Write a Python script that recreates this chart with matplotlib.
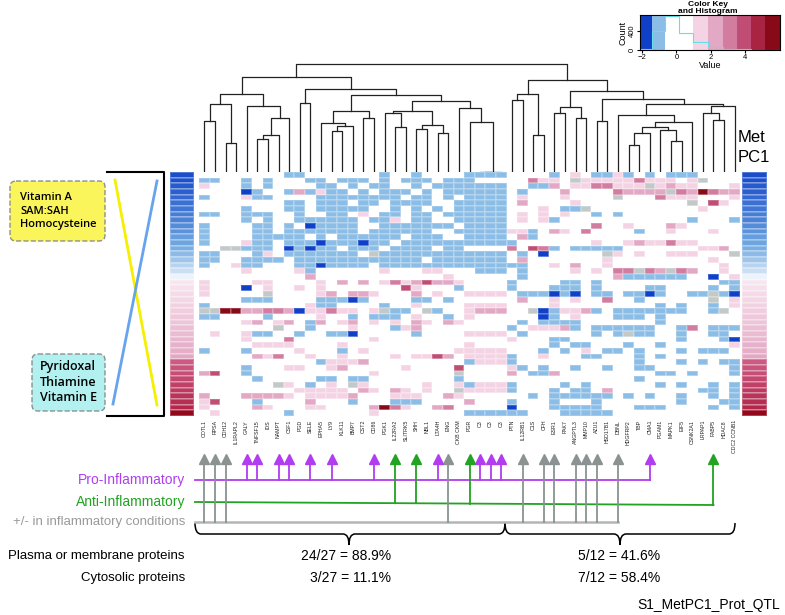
import numpy as np
import matplotlib
matplotlib.use('Agg')
import matplotlib.pyplot as plt
from matplotlib.colors import ListedColormap, BoundaryNorm, LinearSegmentedColormap
from matplotlib.path import Path
from matplotlib.patches import PathPatch, FancyBboxPatch

plt.rcParams['font.family'] = ['Liberation Sans', 'DejaVu Sans']

# ---- data ----
col_labels = ['COTL1', 'RPSA', 'CDH12', 'IL1RAPL2', 'GALY', 'TNFSF15', 'IDS', 'NAMPT',
              'CSF1', 'PGD', 'SELE', 'EPHA5', 'LY9', 'KLK11', 'BMP7', 'CST2', 'CD86',
              'PGK1', 'IL22RA2', 'SLITRK5', 'SHH', 'NBL1', 'LTA4H', 'ENG', 'CKB CKM',
              'PGR', 'C3', 'C3', 'C3', 'PTN', 'IL12RB1', 'C1S', 'CFH', 'ESR1', 'PAK7',
              'ANGPTL3', 'MMP10', 'AZU1', 'HSD17B1', 'DBNL', 'HDGFRP2', 'TBP', 'CMA1',
              'PGAM1', 'MAPK1', 'EIF5', 'CSNK2A1', 'LRPAP1', 'FABP5', 'HDAC8', 'CDC2 CCNB1']

# cell codes: B dark blue, b light blue, . white, p/q/m/r/R pinks to dark red, g = NA
heat_left = [
    "..... ...bb ..... ..b.. b.... bbbb",
    "bb..b .b... bb.bb b.b.b bb.bb b...",
    "p...b .b... .bb.b .bb.. b.bbb bbbb",
    "....B b..bq bpbb. b.bbb .b.bb bbbb",
    "b...p bb... .bbbb bbbb. bb.b. bbbb",
    "..... ...bb .bbb. bb.bb bb..b bbbb",
    "....b ...bb .bbbb b..b. b.b.b bbbb",
    "bb..b bb..b ..bb. p.bb. bb.bb bbbb",
    "....b .b..b bbbbb .bbp. bb..b bbbb",
    "b.... bb.b. Bbbbb ..bbb bbbb. bbbb",
    "b.... bb.bb bbbbb .bbbb bb..b bbbb",
    "b.... bbbbb .b.bb bbbb. bbb.. bbbb",
    "b...p bb.bb bBbbb Bbb.b bbbbb bbbb",
    "..ggb bb.Bb Bbb.b bb.bb bb.bb ....",
    "bb... bp.bb bbbbb .gbbb bbbbb bbbb",
    "bb..b bbb.b bbbbb bbbbb b.bbb bbbb",
    "b..pb b...b bBbbb b.bbb bbbbb bbbb",
    "....p ....p b.... ..p.. .pp.. .bbb",
    "..... ..... q.... ..... ...p. ....",
    "p.... pp... .p.q. q.pmp qrqqp ....",
    "p...B .p..p .p... ....r p...b ....",
    "p.... .g... .pq.q qp... q.p.. pppp",
    "....b bb... .bbbB b.... bb.b. ....",
    "b.... ..... pbb.. ..b.. p.... pppp",
    "ggRRq qmmqB ppmpp .pgbb .gb.. pqqq",
    "bb... .b... .p..b .bbb. p..b. p...",
    "....p q.pq. bq.pq .p.p. qp.qp ....",
    "..... ..g.. b...p ...bp q.... ....",
    ".p..p bb..b ..bbB ..... b.... pppp",
    "....p ...m. ..... .p... ..... ....",
    "..... pppp. ...p. ..... ..... p...",
    "b...b ....p ...b. p.... ....p pppp",
    "..... qpm.. p..p. ...p. pprq. pppp",
    "..... ..... .bppp q.... ..... bppp",
    "....b ...pp ..pq. ....p ....r ....",
    "qr..b ..... ..... .p... ....g ....",
    "..... b.... .bb.b b.... ....b ....",
    "..... ..gp. b.p.g p.... .p..p bppp",
    "..... ....p pppp. qp.qp .p..g pppp",
    "q...q qqqp. ppppq ...pp p..qp ....",
    "pr... b.... q...b ...bb b.... q...",
    "p.... qp... pp... .qRmp ..qm. ....",
    ".p... ...b. ..... .p... ..... bbbb",
]
heat_right = [
    "....b .p.bb pb.b. bbb.. ..",
    "..mpp .gppp ppmpp p.pg. ..",
    "..bbq .ppmm pppgp qpp.. .p",
    ".b... q.... mqqqq gmqRm qq",
    ".p... p.... g...m ppp.. .p",
    ".q... .p... ..... ..g.r p.",
    "...p. bbg.. ..... ...p. ..",
    ".p.p. p..b. b.... ..... ..",
    ".p.pb ..... ..... ..b.. .b",
    "..... ...m. .p... qp... ..",
    "ppb.q p.m.. ..b.. p...p ..",
    ".qb.. ..... ..... ..... ..",
    "b.... ...p. .pqpp mpp.. ..",
    "m.rmb .bbbb b.... ...pp q.",
    ".b.B. ....g p.p.. ppp.. .g",
    ".q... ....p ..... ....p ..",
    "bb..p .q..p ..... ..... p.",
    ".b... .p.p. mmgmq gmq.. p.",
    ".b... ..... qbbbb bb..B .p",
    "b.... bb.b. ..... ..... bb",
    "b...b bb.b. ...bb ....b .b",
    ".bbbB bB.bb .bbBb ..bbg bB",
    ".q..p .p..m ..b.. ....g .p",
    "....p ..... ....b .b..b .p",
    "..gBb ppqb. bbbbb bb..b g.",
    "...Bb .p... bbb.b ..... ..",
    ".b.bb bb... ....b ..... ..",
    "b.ppp qb.bb bbbb. .bm.b bb",
    ".b... ...b. bgbb. .b..b b.",
    "p...b b.... ..... .b... bB",
    "....b .bb.. .b..b ..... .p",
    "...b. b.p.b b.b.. .b.bb b.",
    "b..p. ..bb. ..b.b ..... ..",
    "b.... ..... ..b.. .b.b. bb",
    "pb.b. .b..b ..bb. ..... .b",
    "q.bbq ..... ....b b.b.. .b",
    "..... ..... ..b.. ..... ..",
    "b.... b.b.. ....b .b..b .b",
    "b...b .bb.q ..... ...bb .b",
    "..b.b bbbbb .b.b. .b..b .b",
    "b...b ...b. ..... .b... bb",
    "B...b bbbb. ..bbb ....b .b",
    "bb... bbbbb ..... ..... ..",
]
code_values = {'B': -1.8, 'b': -1.0, '.': 0.5, 'p': 1.4, 'q': 2.2,
               'm': 3.0, 'r': 3.9, 'R': 5.5, 'g': np.nan}

met_pc1 = [-2.0, -1.95, -1.85, -1.8, -1.7, -1.6, -1.55, -1.45, -1.4, -1.3, -1.2,
           -1.1, -1.0, -0.9, -0.75, -0.6, -0.45, -0.3, -0.05, 0.3, 0.4, 0.5, 0.6,
           0.7, 0.8, 0.9, 1.0, 1.1, 1.2, 1.3, 1.4, 1.5, 1.6, 2.2, 2.4, 2.6, 2.8,
           3.0, 3.2, 3.4, 3.6, 3.8, 4.8]

# column dendrogram: (left, right, height); ints are columns
col_tree = (
    ((((0, 1, 142), (2, 3, 80), 190),
      (4, ((((5, 6, 92), 7, 105), 8, 150)), 185), 218),
     ((9, 10, 193),
      (((11, ((12, 13, 115), 14, 130), 138), (15, 16, 152), 170),
       (((17, (18, 19, 125), 165), ((20, 21, 120), (22, 23, 108), 132), 172),
        (24, (25, (((26, 27, 1), 28, 1)), 140), 180), 198), 217), 232), 265),
    ((((29, 30, 202), (31, 32, 105), 220)),
     (((33, 34, 165), (35, 36, 152), 182),
      ((37, 38, 142),
       ((39, (((((40, 41, 75), 42, 108), (43, (44, 45, 88), 117), 125)), 46, 140), 160),
        ((47, (48, 49, 145), 165), 50, 185), 192), 205), 228), 258),
    302)

pro_cols = [4, 5, 7, 8, 10, 12, 16, 22, 26, 27, 28, 42]
anti_cols = [18, 20, 25, 48]
both_cols = [0, 1, 2, 23, 30, 32, 33, 35, 36, 37, 39]

key_bounds = [-2.12, -1.44, -0.67, 0.17, 0.98, 1.85, 2.72, 3.5, 4.37, 5.15, 6.03]
key_colors = ['#1040c8', '#8cbde6', '#ffffff', '#ffffff', '#f4d4e4', '#e2a8c4',
              '#d27ca0', '#c04e74', '#a92342', '#880a18']
hist_counts = [20, 400, 700, 340, 160, 60, 25, 12, 6, 3]

# ---- layout helpers ----
W, H = 785, 615
fig = plt.figure(figsize=(7.85, 6.15), dpi=100)


def px_axes(x0, y0, x1, y1):
    return fig.add_axes([x0 / W, 1 - y1 / H, (x1 - x0) / W, (y1 - y0) / H])


ov = px_axes(0, 0, W, H)
ov.set_xlim(0, W)
ov.set_ylim(H, 0)
ov.axis('off')

HX0, HX1, HY0, HY1 = 199, 740, 172, 416
ncol = len(col_labels)


def col_x(i):
    return HX0 + (i + 0.5) * (HX1 - HX0) / ncol


# heatmap
rows = [(l + r).replace(' ', '') for l, r in zip(heat_left, heat_right)]
mat = np.array([[code_values[ch] for ch in row] for row in rows])
nrow = mat.shape[0]
cmap = ListedColormap(key_colors)
cmap.set_bad('#c3c9c9')
norm = BoundaryNorm(key_bounds, cmap.N)
ax_hm = px_axes(HX0, HY0, HX1, HY1)
ax_hm.pcolormesh(np.arange(ncol + 1), np.arange(nrow + 1), np.ma.masked_invalid(mat),
                 cmap=cmap, norm=norm, edgecolors='#ffffff30', linewidth=0.1)
ax_hm.set_xlim(0, ncol)
ax_hm.set_ylim(nrow, 0)
ax_hm.axis('off')
for i, lab in enumerate(col_labels):
    ax_hm.text(i + 0.5, nrow + 0.7, lab, rotation=90, ha='center', va='top',
               fontsize=3.8, color='#222222', clip_on=False)

# dendrogram
ax_dn = px_axes(HX0, 60, HX1, HY0)
ax_dn.set_xlim(0, ncol)
ax_dn.set_ylim(0, 314)
ax_dn.axis('off')


def draw_tree(node):
    if isinstance(node, int):
        return node + 0.5, 0.0
    left, right, h = node
    xl, hl = draw_tree(left)
    xr, hr = draw_tree(right)
    ax_dn.plot([xl, xl, xr, xr], [hl, h, h, hr], color='#222222', lw=0.9)
    return (xl + xr) / 2, h


draw_tree(col_tree)

# side colour strips
side_cmap = LinearSegmentedColormap.from_list('side', [
    (0.0, '#0a3cc6'), (0.167, '#6da6e0'), (0.299, '#eef4fb'), (0.347, '#f8e4ee'),
    (0.528, '#e3aac5'), (0.611, '#cc5a82'), (0.833, '#b3284c'), (1.0, '#8b0010')])
for x0, x1 in [(170, 194), (742, 767)]:
    ax_s = px_axes(x0, HY0, x1, HY1)
    ax_s.pcolormesh(np.array(met_pc1).reshape(-1, 1), cmap=side_cmap, vmin=-2.2, vmax=5,
                    edgecolors='#ffffff40', linewidth=0.1)
    ax_s.set_ylim(nrow, 0)
    ax_s.axis('off')
ov.text(738, 137, 'Met', fontsize=12, ha='left', va='center')
ov.text(738, 158, 'PC1', fontsize=12, ha='left', va='center')

# left bracket, crossing lines and boxes
ov.plot([107, 164, 164, 107], [172, 172, 416, 416], color='black', lw=1.5)
ov.plot([115, 157], [180, 405], color='#f4f000', lw=2)
ov.plot([157, 113], [181, 404], color='#68a4ee', lw=2)
ov.add_patch(FancyBboxPatch((10, 181), 95, 60, boxstyle='round,pad=0,rounding_size=6',
                            fc='#fbf55c', ec='#8f8f8f', ls='--', lw=1))
ov.add_patch(FancyBboxPatch((32, 354), 73, 57, boxstyle='round,pad=0,rounding_size=6',
                            fc='#b3f0f0', ec='#8f8f8f', ls='--', lw=1))
ov.text(20, 211, 'Vitamin A\nSAM:SAH\nHomocysteine', ha='left', va='center', fontsize=8,
        family=['Open Sans', 'DejaVu Sans'], fontweight='semibold', linespacing=1.3)
ov.text(40, 382, 'Pyridoxal\nThiamine\nVitamin E', ha='left', va='center', fontsize=9,
        family=['Open Sans', 'DejaVu Sans'], fontweight='semibold', linespacing=1.25)

# inflammation arrows
purple, green, grey, grey_line = '#b23cf0', '#22a322', '#8a9292', '#b5b5b5'
tip = 455
ov.plot([195, col_x(max(pro_cols))], [480, 480], color=purple, lw=1.3)
gx1 = col_x(max(anti_cols))
ov.plot([195, gx1], [502, 505], color=green, lw=1.3)
ov.plot([195, col_x(max(both_cols))], [522, 522], color=grey_line, lw=1.8)


def arrow(x, y0, c):
    ov.plot([x, x], [y0, tip + 5], color=c, lw=1.3)
    ov.plot(x, tip + 4, marker='^', ms=6.5, color=c, mec=c)


for i in both_cols:
    arrow(col_x(i), 522, grey)
for i in pro_cols:
    arrow(col_x(i), 480, purple)
for i in anti_cols:
    x = col_x(i)
    arrow(x, 502 + 3 * (x - 195) / (gx1 - 195), green)

ov.text(185, 480, 'Pro-Inflammatory', ha='right', va='center', color=purple, fontsize=10)
ov.text(185, 502, 'Anti-Inflammatory', ha='right', va='center', color=green, fontsize=10)
ov.text(185, 522, '+/- in inflammatory conditions', ha='right', va='center',
        color='#9a9a9a', fontsize=9.5)


# braces
def brace(x0, x1, xt, ytop=523, ymid=534, ytip=545, r=6):
    verts = [(x0, ytop), (x0, ymid), (x0 + r, ymid), (xt - r, ymid), (xt, ymid), (xt, ytip),
             (xt, ymid), (xt + r, ymid), (x1 - r, ymid), (x1, ymid), (x1, ytop)]
    codes = [Path.MOVETO, Path.CURVE3, Path.CURVE3, Path.LINETO, Path.CURVE3, Path.CURVE3,
             Path.CURVE3, Path.CURVE3, Path.LINETO, Path.CURVE3, Path.CURVE3]
    ov.add_patch(PathPatch(Path(verts, codes), fc='none', ec='black', lw=1.1))


brace(195, 505, 349)
brace(505, 735, 620)

ov.text(185, 556, 'Plasma or membrane proteins', ha='right', va='center', fontsize=9.5)
ov.text(185, 578, 'Cytosolic proteins', ha='right', va='center', fontsize=9.5)
ov.text(346, 556, '24/27 = 88.9%', ha='center', va='center', fontsize=10)
ov.text(350, 578, '3/27 = 11.1%', ha='center', va='center', fontsize=10)
ov.text(619, 556, '5/12 = 41.6%', ha='center', va='center', fontsize=10)
ov.text(619, 578, '7/12 = 58.4%', ha='center', va='center', fontsize=10)
ov.text(780, 605, 'S1_MetPC1_Prot_QTL', ha='right', va='center', fontsize=10)

# colour key with histogram
ax_k = px_axes(640, 15, 780, 50)
for b0, b1, c in zip(key_bounds[:-1], key_bounds[1:], key_colors):
    ax_k.axvspan(b0, b1, color=c, lw=0)
ax_k.stairs(hist_counts, key_bounds, color='#62dfe8', lw=0.8)
ax_k.set_xlim(key_bounds[0], key_bounds[-1])
ax_k.set_ylim(0, 720)
ax_k.set_xticks([-2, 0, 2, 4])
ax_k.set_yticks([0, 400])
ax_k.tick_params(labelsize=5.5, length=2, pad=1)
for t in ax_k.get_yticklabels():
    t.set_rotation(90)
    t.set_va('center')
ax_k.set_xlabel('Value', fontsize=6.5, labelpad=0)
ax_k.set_ylabel('Count', fontsize=6.5, labelpad=1)
ov.text(708, 8, 'Color Key\nand Histogram', ha='center', va='center', fontsize=6,
        fontweight='bold', linespacing=1.05)

fig.savefig('out.png', dpi=100)
